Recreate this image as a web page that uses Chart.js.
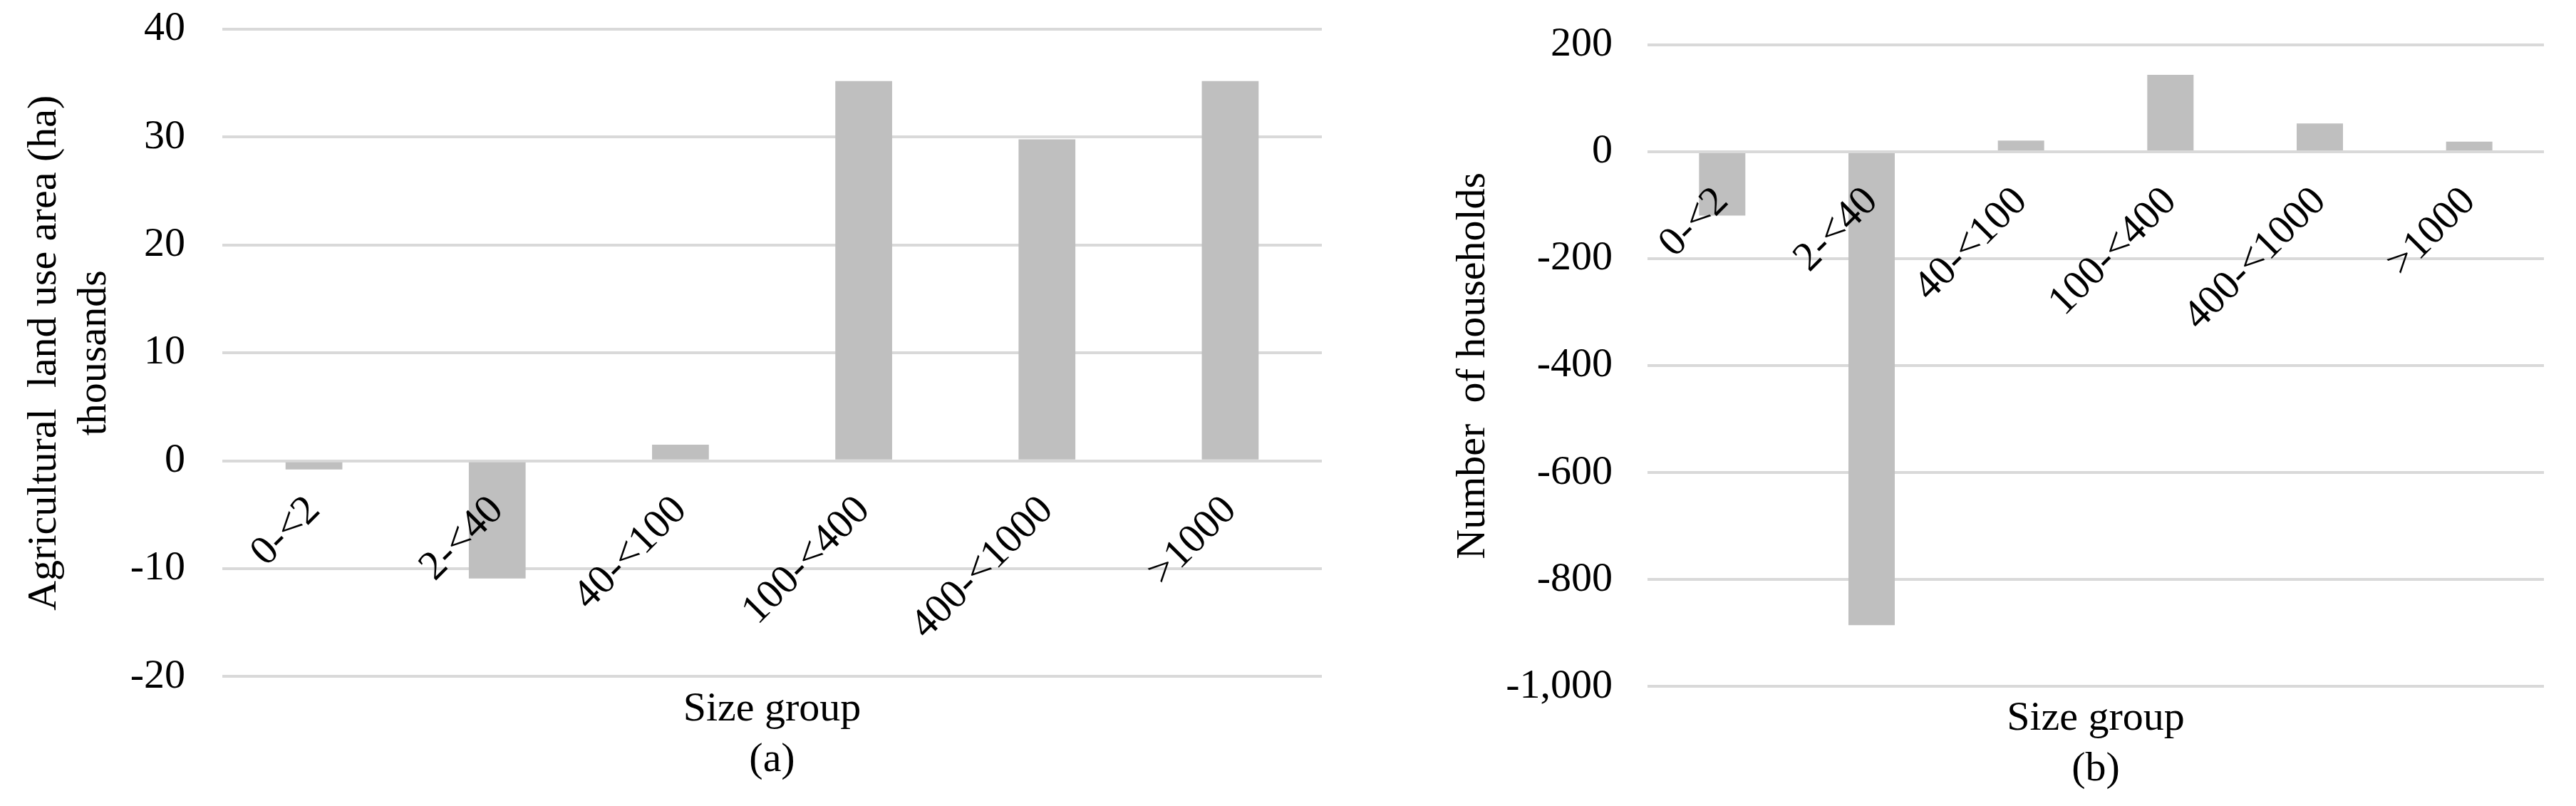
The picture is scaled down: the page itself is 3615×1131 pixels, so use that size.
<!DOCTYPE html>
<html>
<head>
<meta charset="utf-8">
<script src="https://cdn.jsdelivr.net/npm/chart.js@4.4.1/dist/chart.umd.min.js"></script>
<style>
html, body { margin: 0; padding: 0; background: #fff; width: 3615px; height: 1131px; overflow: hidden; }
.box { position: absolute; top: 0; height: 1131px; }
#wa { left: 0; width: 1900px; }
#wb { left: 1900px; width: 1715px; }
</style>
</head>
<body>
<div class="box" id="wa"><canvas id="ca"></canvas></div>
<div class="box" id="wb"><canvas id="cb"></canvas></div>
<script>
// ---- data ----
const categories = ['0-<2', '2-<40', '40-<100', '100-<400', '400-<1000', '>1000'];
const landAreaThousandHa = [-0.8, -10.9, 1.5, 35.2, 29.8, 35.2];
const households = [-119, -885, 21, 144, 53, 19];
const yRangeA = [-20, 40];
const yStepA = 10;
const yRangeB = [-1000, 200];
const yStepB = 200;
const yTitleA = ['Agricultural  land use area (ha)', 'thousands'];
const yTitleB = 'Number  of households';
const xTitleA = ['Size group', '(a)'];
const xTitleB = ['Size group', '(b)'];

const FAMILY = "'Liberation Serif', 'Times New Roman', serif";
const FONT = { family: FAMILY, size: 58, lineHeight: 1.2 };

function makeChart(canvasId, values, o) {
  return new Chart(document.getElementById(canvasId), {
    type: 'bar',
    data: {
      labels: categories,
      datasets: [{
        data: values,
        backgroundColor: '#bfbfbf',
        borderWidth: 0,
        barPercentage: 0.31,
        categoryPercentage: 1.0
      }]
    },
    options: {
      responsive: true,
      maintainAspectRatio: false,
      animation: false,
      devicePixelRatio: 1,
      layout: { padding: o.padding },
      plugins: {
        legend: { display: false },
        tooltip: { enabled: false },
        title: {
          display: true,
          position: 'bottom',
          fullSize: false,
          text: o.xTitle,
          color: '#000',
          font: { family: FAMILY, size: 58, weight: 'normal', lineHeight: 1.22 },
          padding: { top: o.titlePadTop, bottom: 0 }
        }
      },
      scales: {
        x: {
          position: { y: 0 },
          grid: { display: false, drawTicks: false },
          border: { display: false },
          ticks: {
            z: 1,
            autoSkip: false,
            minRotation: 45,
            maxRotation: 45,
            padding: 36,
            labelOffset: 0,
            color: '#000',
            font: FONT
          },
          afterFit: s => { s.height = 0; s.paddingLeft = 0; s.paddingRight = 0; }
        },
        y: {
          min: o.range[0],
          max: o.range[1],
          grid: { color: '#d9d9d9', lineWidth: 4, drawTicks: false },
          border: { display: false },
          ticks: {
            stepSize: o.step,
            padding: o.tickPad,
            color: '#000',
            font: FONT,
            callback: v => Number(v).toLocaleString('en-US')
          },
          title: {
            display: true,
            text: o.yTitle,
            color: '#000',
            font: FONT,
            padding: { top: o.yTitlePad, bottom: 0 }
          },
          afterFit: s => { s.width = o.axisWidth; s.paddingTop = 0; s.paddingBottom = 0; }
        }
      }
    }
  });
}

makeChart('ca', landAreaThousandHa, {
  padding: { left: 0, top: 41, right: 45, bottom: 29 },
  range: yRangeA, step: yStepA, tickPad: 52,
  yTitle: yTitleA, yTitlePad: 28, axisWidth: 312,
  xTitle: xTitleA, titlePadTop: 11
});

makeChart('cb', households, {
  padding: { left: 0, top: 63, right: 45, bottom: 16 },
  range: yRangeB, step: yStepB, tickPad: 49,
  yTitle: yTitleB, yTitlePad: 133, axisWidth: 412,
  xTitle: xTitleB, titlePadTop: 10
});
</script>
</body>
</html>
